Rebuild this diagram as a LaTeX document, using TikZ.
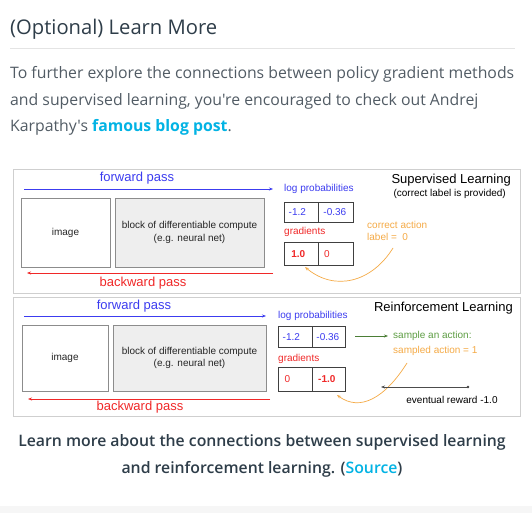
\documentclass[tikz,border=0pt]{standalone}
\usepackage{fontspec}
\setmainfont{Open Sans}[Ligatures=TeXOff]
\newfontfamily\arial{Liberation Sans}
\IfFontExistsTF{Open Sans SemiBold}
  {\newfontfamily\semib{Open Sans SemiBold}[Ligatures=TeXOff]\newcommand\capsize{\fontsize{15.8}{20}\selectfont}}
  {\IfFontExistsTF{Open Sans Semibold}
    {\newfontfamily\semib{Open Sans Semibold}[Ligatures=TeXOff]\newcommand\capsize{\fontsize{15.8}{20}\selectfont}}
    {\newfontfamily\semib{Open Sans}[Ligatures=TeXOff]\newcommand\capsize{\bfseries\fontsize{15.2}{20}\selectfont}}}
\usetikzlibrary{arrows.meta}
\definecolor{titlec}{HTML}{2E3D49}
\definecolor{bodyc}{HTML}{525C65}
\definecolor{linkc}{HTML}{02B3E4}
\definecolor{fwd}{HTML}{3C3CF0}
\definecolor{bwd}{HTML}{F02828}
\definecolor{orng}{HTML}{F5AA46}
\definecolor{grn}{HTML}{5E9E44}
\definecolor{panelc}{HTML}{CFCFCF}
\definecolor{boxc}{HTML}{8C8C8C}
\definecolor{fillc}{HTML}{EEEEEE}
\definecolor{bandc}{HTML}{F6F6F6}
\definecolor{rulec}{HTML}{E4E4E4}
\tikzset{
  para/.style={anchor=base west, inner sep=0, text=bodyc, font=\fontsize{15.8}{20}\selectfont},
  capt/.style={inner sep=0, text=titlec, font=\semib\capsize},
  panel/.style={draw=panelc, line width=0.8pt, anchor=north west, inner sep=0},
  grayb/.style={draw=boxc, line width=0.7pt, inner sep=0},
  cell/.style={draw=black!75, line width=0.7pt, inner sep=0, anchor=north west, font=\arial\fontsize{10}{12}\selectfont},
  dtext/.style={inner sep=0, font=\arial\fontsize{10}{12.5}\selectfont, text=black!85, align=center},
  big/.style={inner sep=0, font=\arial\fontsize{13}{15}\selectfont},
  small/.style={inner sep=0, font=\arial\fontsize{10}{12}\selectfont},
  fwdarrow/.style={draw=fwd, line width=0.7pt, -{Stealth[length=4pt,width=3pt]}},
  bwdarrow/.style={draw=bwd, line width=0.7pt, -{Stealth[length=4pt,width=3pt]}},
}
\begin{document}
\begin{tikzpicture}[x=1pt,y=-1pt]
\useasboundingbox (0,0) rectangle (532,513);
\fill[white] (0,0) rectangle (532,513);
\fill[bandc] (0,506) rectangle (532,513);

% header
\node[anchor=base west, inner sep=0, text=titlec, font=\fontsize{20.2}{24}\selectfont] (title) at (10,35) {(Optional) Learn More};
\coordinate (r1) at (10,49); \coordinate (r2) at (515,49);
\draw[rulec, line width=1pt] (r1) -- (r2);
\node[para] (p1) at (10,79) {To further explore the connections between policy gradient methods};
\node[para] (p2) at (10,106) {and supervised learning, you're encouraged to check out Andrej};
\node[para] (p3) at (10,132) {Karpathy's \textcolor{linkc}{\bfseries famous blog post}.};

% ===== panel 1 =====
\node[panel, minimum width=507, minimum height=124] (pan1) at (13,169) {};
\node[grayb, minimum width=89, minimum height=69] (img1) at (65.5,232.5) {};
\node[dtext] at (img1.center) {image};
\node[grayb, fill=fillc, minimum width=149, minimum height=69] (blk1) at (189.5,232.5) {};
\node[dtext] at (blk1.center) {block of differentiable compute\\(e.g. neural net)};
\node[big, text=fwd] (fp1) at (137,178) {forward pass};
\coordinate (f1s) at (24,189); \coordinate (f1e) at (273,189);
\draw[fwdarrow] (f1s) -- (f1e);
\coordinate (b1s) at (273,273); \coordinate (b1e) at (27,273);
\draw[bwdarrow] (b1s) -- (b1e);
\node[big, text=bwd] (bp1) at (143,283) {backward pass};

\node[small, text=fwd, anchor=west] (lp1) at (284,189) {log probabilities};
\node[cell, text=fwd, minimum width=34, minimum height=20] (lpa1) at (284,202) {\hspace*{-8pt}-1.2};
\node[cell, text=fwd, minimum width=35, minimum height=20] (lpb1) at (318,202) {\hspace*{-2pt}-0.36};
\node[small, text=bwd, anchor=west] (gr1) at (284,232) {gradients};
\node[cell, text=bwd, minimum width=34, minimum height=23] (ga1) at (284,242) {\hspace*{-6pt}\bfseries 1.0};
\node[cell, text=bwd, minimum width=35, minimum height=23] (gb1) at (318,242) {\hspace*{-18pt}0};

\node[big, anchor=east] (sl) at (511,180) {Supervised Learning};
\node[small, anchor=east] (slsub) at (506,194) {(correct label is provided)};
\node[small, text=orng, anchor=west, align=left] (ca) at (367,231) {correct action\\label = \ 0};
\coordinate (o1s) at (393,248); \coordinate (o1e) at (305,267);
\draw[orng, line width=0.7pt, -{Stealth[length=4pt,width=3pt]}] (o1s) .. controls (372,282) and (335,292) .. (o1e);

% ===== panel 2 =====
\node[panel, minimum width=507, minimum height=119] (pan2) at (13,297) {};
\node[grayb, minimum width=86, minimum height=66] (img2) at (65,358) {};
\node[dtext] at (img2.center) {image};
\node[grayb, fill=fillc, minimum width=153, minimum height=66] (blk2) at (189.5,358) {};
\node[dtext] at (blk2.center) {block of differentiable compute\\(e.g. neural net)};
\node[big, text=fwd] (fp2) at (134,306) {forward pass};
\coordinate (f2s) at (24,316); \coordinate (f2e) at (266,316);
\draw[fwdarrow] (f2s) -- (f2e);
\coordinate (b2s) at (270,399); \coordinate (b2e) at (28,399);
\draw[bwdarrow] (b2s) -- (b2e);
\node[big, text=bwd] (bp2) at (140,407) {backward pass};

\node[small, text=fwd, anchor=west] (lp2) at (278,316) {log probabilities};
\node[cell, text=fwd, minimum width=34, minimum height=21] (lpa2) at (278,326) {\hspace*{-8pt}-1.2};
\node[cell, text=fwd, minimum width=33, minimum height=21] (lpb2) at (312,326) {\hspace*{-2pt}-0.36};
\node[small, text=bwd, anchor=west] (gr2) at (278,359) {gradients};
\node[cell, text=bwd, minimum width=34, minimum height=24] (ga2) at (278,367) {\hspace*{-16pt}0};
\node[cell, text=bwd, minimum width=33, minimum height=24] (gb2) at (312,367) {\hspace*{-4pt}\bfseries -1.0};

\node[big, anchor=east] (rl) at (513,308) {Reinforcement Learning};
\node[small, text=grn, anchor=west] (sa) at (393,336) {sample an action:};
\coordinate (g2s) at (355,336); \coordinate (g2e) at (388,336);
\draw[grn!80!black, line width=0.6pt, -{Stealth[length=4pt,width=3pt]}] (g2s) -- (g2e);
\node[small, text=orng, anchor=west] (sda) at (393,351) {sampled action = 1};
\coordinate (o2s) at (407,363); \coordinate (o2e) at (337,395);
\draw[orng, line width=0.7pt, -{Stealth[length=4pt,width=3pt]}] (o2s) .. controls (385,398) and (360,412) .. (o2e);
\coordinate (rws) at (468,387); \coordinate (rwe) at (381,387);
\fill[black!75] (rws) circle (1.3pt);
\draw[black!70, line width=0.7pt, -{Stealth[length=4pt,width=3pt]}] (rws) -- (rwe);
\node[small, anchor=center] (er) at (452,400) {eventual reward -1.0};

% caption
\node[capt] (c1) at (262,442) {Learn more about the connections between supervised learning};
\node[capt] (c2) at (262,469) {and reinforcement learning. (\textcolor{linkc}{Source})};
\end{tikzpicture}
\end{document}
